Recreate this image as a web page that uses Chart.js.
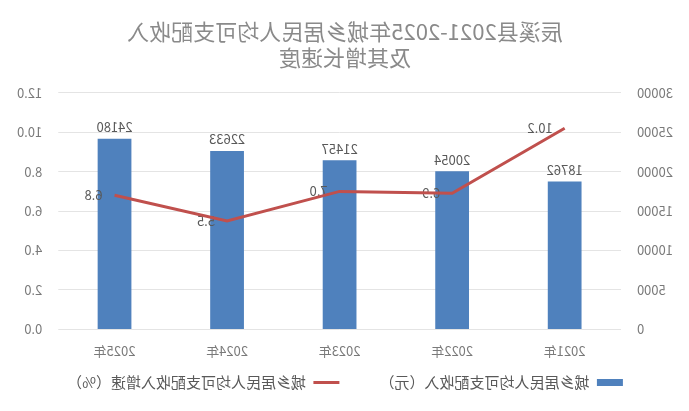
<!DOCTYPE html>
<html>
<head>
<meta charset="utf-8">
<script src="https://cdn.jsdelivr.net/npm/chart.js@4"></script>
<style>
  html, body { margin: 0; padding: 0; background: #fff; }
  #wrap { width: 689px; height: 411px; transform: scaleX(-1); }
</style>
</head>
<body>
<div id="wrap"><canvas id="myChart"></canvas></div>
<script>
const years = ['2021年', '2022年', '2023年', '2024年', '2025年'];
const income = [18762, 20054, 21457, 22633, 24180];
const growth = [10.2, 6.9, 7.0, 5.5, 6.8];
const incomeTicks = [0, 5000, 10000, 15000, 20000, 25000, 30000];
const growthTicks = [0, 2, 4, 6, 8, 10, 12];

const FONT = '"Noto Sans CJK SC", "Noto Sans", sans-serif';
const GREY = '#7a7a7a';

// value labels: bars above, line points to the right
const valueLabels = {
  id: 'valueLabels',
  afterInit(chart) {
    // legend padding gives the wide gap between items; pull the row up a bit
    const lg = chart.legend;
    if (!lg) return;
    const draw = lg.draw;
    lg.draw = function (...a) { this.top -= 38; draw.apply(this, a); this.top += 38; };
  },
  afterDatasetDraw(chart, args) {
    if (args.index !== 0) return;
    const ctx = chart.ctx;
    ctx.save();
    ctx.font = '13px ' + FONT;
    ctx.fillStyle = '#595959';
    chart.getDatasetMeta(0).data.forEach((el, j) => {
      ctx.textAlign = 'center';
      ctx.textBaseline = 'bottom';
      ctx.fillText(String(income[j]), el.x, el.y - 5);
    });
    chart.getDatasetMeta(1).data.forEach((el, j) => {
      ctx.textAlign = 'left';
      ctx.textBaseline = 'middle';
      ctx.fillText(growth[j].toFixed(1), el.x + 12, el.y);
    });
    ctx.restore();
  }
};

const ctx = document.getElementById('myChart');

new Chart(ctx, {
  data: {
    labels: years,
    datasets: [{
      type: 'bar',
      label: '城乡居民人均可支配收入（元）',
      data: income,
      yAxisID: 'y',
      backgroundColor: '#4F81BD',
      pointStyle: 'rect',
      categoryPercentage: 1,
      barPercentage: 0.3,
      order: 2
    }, {
      type: 'line',
      label: '城乡居民人均可支配收入增速（%）',
      data: growth,
      yAxisID: 'y1',
      borderColor: '#C0504D',
      backgroundColor: '#C0504D',
      borderWidth: 3,
      pointRadius: 0,
      pointStyle: 'line',
      tension: 0,
      order: 1
    }]
  },
  options: {
    responsive: true,
    maintainAspectRatio: false,
    animation: false,
    layout: { padding: { left: 0, right: 1, top: 4, bottom: -27 } },
    plugins: {
      title: {
        display: true,
        text: ['辰溪县2021-2025年城乡居民人均可支配收入', '及其增长速度'],
        color: '#8a8a8a',
        font: { family: FONT, size: 22, weight: 'normal', lineHeight: 1.2 },
        padding: { top: 14, bottom: 22 }
      },
      legend: {
        position: 'bottom',
        labels: {
          color: '#595959',
          font: { family: FONT, size: 15 },
          usePointStyle: true,
          pointStyleWidth: 26,
          boxHeight: 7,
          padding: 40,
          sort: (a, b) => a.datasetIndex - b.datasetIndex
        }
      },
      tooltip: { enabled: false }
    },
    scales: {
      x: {
        grid: { display: false, drawTicks: false },
        border: { display: false },
        ticks: { color: GREY, font: { family: FONT, size: 13 }, padding: 14 }
      },
      y: {
        position: 'left',
        min: incomeTicks[0],
        max: incomeTicks[incomeTicks.length - 1],
        afterBuildTicks: (axis) => { axis.ticks = incomeTicks.map(v => ({ value: v })); },
        grid: { color: '#e4e4e4', drawTicks: false },
        border: { display: false },
        ticks: {
          color: GREY,
          font: { family: FONT, size: 13 },
          padding: 16,
          callback: (v) => String(v)
        }
      },
      y1: {
        position: 'right',
        min: growthTicks[0],
        max: growthTicks[growthTicks.length - 1],
        afterBuildTicks: (axis) => { axis.ticks = growthTicks.map(v => ({ value: v })); },
        grid: { drawOnChartArea: false, drawTicks: false },
        border: { display: false },
        ticks: {
          color: GREY,
          font: { family: FONT, size: 13 },
          padding: 16,
          callback: (v) => Number(v).toFixed(1)
        }
      }
    }
  },
  plugins: [valueLabels]
});
</script>
</body>
</html>
